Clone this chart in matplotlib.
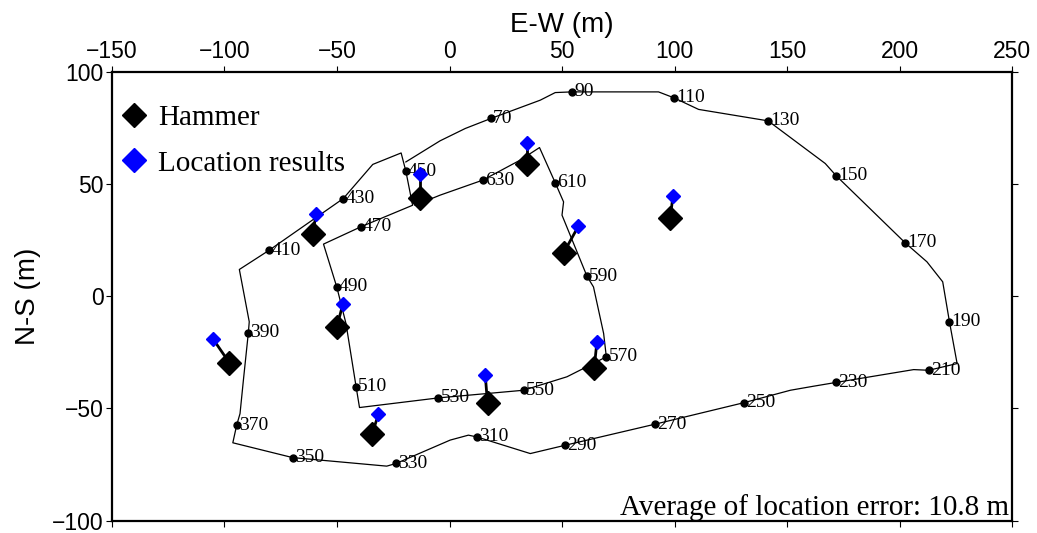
import matplotlib
matplotlib.use("Agg")
import matplotlib.pyplot as plt
from matplotlib.lines import Line2D
import numpy as np

# survey line (E-W, N-S in metres), in walking order
line_x = [-19.4, -4.2, 7.0, 18.5, 40.3, 47.0, 54.4, 92.9, 99.9, 110.7, 141.6, 167.0, 171.9,
          202.6, 212.2, 219.2, 222.2, 225.6, 213.0, 206.3, 171.9, 161.8, 151.5, 131.0, 91.4,
          51.4, 35.9, 12.2, 8.4, 0.3, -23.7, -27.9, -69.7, -96.3, -94.6, -93.1, -91.6, -89.4,
          -89.0, -93.4, -80.1, -47.2, -34.1, -21.5, -19.4, -16.4, -39.4, -56.0, -50.1, -46.0,
          -41.5, -40.0, -4.9, 32.9, 52.2, 62.5, 69.7, 68.5, 64.0, 61.1, 50.0, 50.7, 47.0, 40.0,
          31.4, 14.8, -4.2, -15.3]
line_y = [59.8, 69.2, 74.7, 79.2, 87.3, 90.7, 91.0, 91.0, 88.3, 83.2, 78.1, 59.1, 53.6,
          23.7, 15.3, 6.4, -11.4, -30.0, -33.0, -32.7, -38.4, -40.1, -41.9, -47.4, -57.0,
          -66.4, -70.1, -62.7, -61.9, -64.1, -74.5, -75.7, -71.9, -65.3, -57.5, -52.3, -37.4, -16.3,
          -11.4, 11.9, 20.5, 43.5, 58.7, 63.8, 55.7, 40.5, 30.9, 23.2, 4.1, -12.2,
          -40.4, -49.6, -45.3, -41.9, -35.9, -30.7, -27.0, -16.6, 4.1, 8.9, 36.1, 42.0, 50.5, 66.2,
          60.6, 51.7, 45.0, 40.5]

# labelled stations
station = [70, 90, 110, 130, 150, 170, 190, 210, 230, 250, 270, 290, 310, 330, 350,
           370, 390, 410, 430, 450, 470, 490, 510, 530, 550, 570, 590, 610, 630]
station_x = [18.5, 54.4, 99.9, 141.6, 171.9, 202.6, 222.2, 213.0, 171.9, 131.0, 91.4, 51.4,
             12.2, -23.7, -69.7, -94.6, -89.4, -80.1, -47.2, -19.4, -39.4, -50.1, -41.5,
             -4.9, 32.9, 69.7, 61.1, 47.0, 14.8]
station_y = [79.2, 91.0, 88.3, 78.1, 53.6, 23.7, -11.4, -33.0, -38.4, -47.4, -57.0, -66.4,
             -62.7, -74.5, -71.9, -57.5, -16.3, 20.5, 43.5, 55.7, 30.9, 4.1, -40.4,
             -45.3, -41.9, -27.0, 8.9, 50.5, 51.7]

# hammer shots and located sources
hammer_x = [-60.8, -13.1, 34.4, 50.7, 98.1, -97.8, -50.1, -34.5, 16.9, 64.3]
hammer_y = [27.9, 43.8, 59.1, 19.3, 34.9, -29.7, -13.7, -61.6, -47.8, -32.2]
loc_x = [-59.3, -13.1, 34.4, 57.3, 99.3, -105.0, -47.4, -31.6, 15.9, 65.5]
loc_y = [36.5, 54.3, 68.3, 31.2, 44.5, -19.2, -3.6, -52.7, -35.2, -20.4]

serif = ["Liberation Serif", "DejaVu Serif"]
sans = ["Liberation Sans", "DejaVu Sans"]

fig = plt.figure(figsize=(10.37, 5.33), dpi=100)
ax = fig.add_axes([0.108, 0.0231, 0.8679, 0.8424])

ax.plot(line_x, line_y, color="black", lw=0.9, zorder=2)
ax.plot(station_x, station_y, "o", color="black", ms=5, zorder=3)
for s, x, y in zip(station, station_x, station_y):
    ax.annotate(str(s), (x, y), xytext=(1.5, 0), textcoords="offset points",
                ha="left", va="center", fontsize=14, family=serif, zorder=4)

# error lines
for hx, hy, lx, ly in zip(hammer_x, hammer_y, loc_x, loc_y):
    ax.plot([hx, lx], [hy, ly], color="black", lw=2, zorder=4)

ax.plot(hammer_x, hammer_y, "D", color="black", ms=12, ls="none", zorder=5)
ax.plot(loc_x, loc_y, "D", color="blue", ms=7, ls="none", zorder=5)

handles = [Line2D([], [], marker="D", color="black", ms=12, ls="none"),
           Line2D([], [], marker="D", color="blue", ms=12, ls="none")]
ax.legend(handles, ["Hammer", "Location results"], loc="upper left",
          bbox_to_anchor=(-0.014, 0.965), frameon=False,
          prop={"family": serif, "size": 21}, handletextpad=0.2,
          handlelength=1.2, labelspacing=0.65, borderaxespad=0.2)

ax.text(0.997, 0.012, "Average of location error: 10.8 m", transform=ax.transAxes,
        ha="right", va="baseline", fontsize=21, family=serif)

ax.set_xlim(-150, 250)
ax.set_ylim(-100, 100)
ax.set_xticks(np.arange(-150, 251, 50))
ax.set_yticks(np.arange(-100, 101, 50))
ax.xaxis.tick_top()
ax.xaxis.set_label_position("top")
ax.tick_params(axis="both", which="both", direction="out", length=4, width=0.8,
               top=True, bottom=True, left=True, right=True,
               labeltop=True, labelbottom=False, labelleft=True, labelright=False,
               labelsize=16.5, pad=2)
for lab in ax.get_xticklabels() + ax.get_yticklabels():
    lab.set_family(sans)
ax.set_xlabel("E-W (m)", fontsize=20, family=sans, labelpad=6)
ax.set_ylabel("N-S (m)", fontsize=20, family=sans, labelpad=8)
for sp in ax.spines.values():
    sp.set_linewidth(1.6)

fig.savefig("out.png", dpi=100)
